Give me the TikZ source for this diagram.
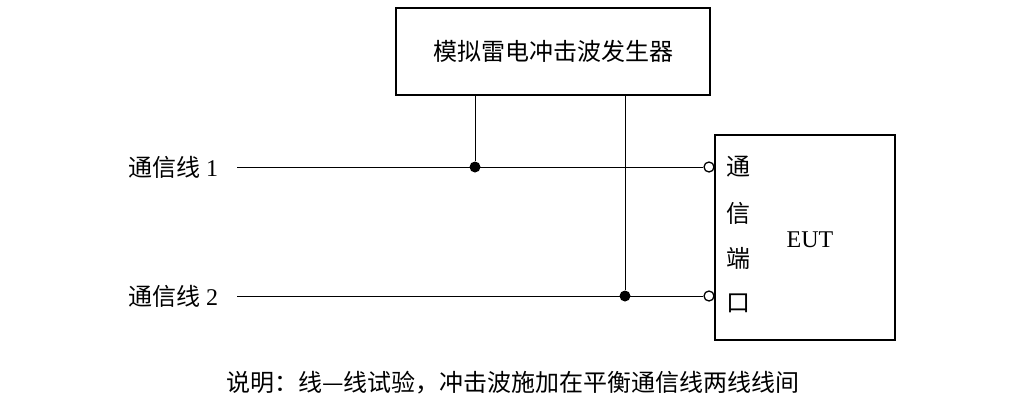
\documentclass[tikz,border=0pt]{standalone}
\usepackage{fontspec}
\setmainfont{Liberation Serif}
\newfontfamily\cjk{Noto Sans CJK SC}
\begin{document}
\begin{tikzpicture}[x=1pt,y=-1pt,line width=0.9pt,
  box/.style={draw,line width=2pt,inner sep=0},
  dot/.style={circle,fill,inner sep=0,minimum size=11pt},
  port/.style={circle,draw,line width=1.3pt,fill=white,inner sep=0,minimum size=10pt},
  lbl/.style={font=\fontsize{24}{26}\selectfont}]
\useasboundingbox (0,0) rectangle (1026,418);
\node[box,minimum width=314pt,minimum height=87pt] (gen) at (553,51.5) {};
\node[lbl] at (gen) {\cjk 模拟雷电冲击波发生器};
\node[box,minimum width=180pt,minimum height=205pt] (eut) at (805,237.5) {};
\node[lbl] at (810,240) {EUT};
\coordinate (s1) at (237,167);
\coordinate (s2) at (237,296);
\node[port] (p1) at (709,167) {};
\node[port] (p2) at (709,296) {};
\node[dot] (d1) at (475,167) {};
\node[dot] (d2) at (625,296) {};
\draw (s1) -- (p1);
\draw (s2) -- (p2);
\draw (p1.east) -- (p1.east -| eut.west);
\draw (p2.east) -- (p2.east -| eut.west);
\draw (d1) -- (d1 |- gen.south);
\draw (d2) -- (d2 |- gen.south);
\node[lbl,anchor=east] at (222,167) {{\cjk 通信线} 1};
\node[lbl,anchor=east] at (222,296) {{\cjk 通信线} 2};
\node[lbl] at (738,167) {\cjk 通};
\node[lbl] at (738,213) {\cjk 信};
\node[lbl] at (738,258) {\cjk 端};
\node[lbl] at (738,303) {\cjk 口};
\node[lbl] at (513,383) {\cjk 说明：线—线试验，冲击波施加在平衡通信线两线线间};
\end{tikzpicture}
\end{document}
